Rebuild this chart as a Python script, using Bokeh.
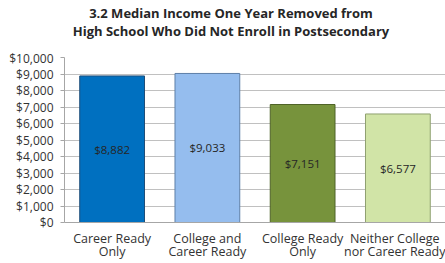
from bokeh.plotting import figure
from bokeh.models import ColumnDataSource, FixedTicker, NumeralTickFormatter, LabelSet, Div
from bokeh.layouts import column
from bokeh.embed import file_html
from bokeh.resources import INLINE
from bokeh.core.properties import value

categories = ["Career Ready\nOnly", "College and\nCareer Ready", "College Ready\nOnly", "Neither College\nnor Career Ready"]
incomes = [8882, 9033, 7151, 6577]
value_labels = ["$8,882", "$9,033", "$7,151", "$6,577"]
fill_colors = ["#0070C0", "#95BDEE", "#77933C", "#D1E4A7"]
line_colors = ["#1F4E79", "#5E7FA8", "#4F6328", "#8FA070"]
y_ticks = list(range(0, 10001, 1000))
title_lines = ["3.2 Median Income One Year Removed from",
               "High School Who Did Not Enroll in Postsecondary"]

src = ColumnDataSource(dict(cat=categories, val=incomes, half=[v / 2 for v in incomes],
                            lab=value_labels, fc=fill_colors, lc=line_colors))

p = figure(x_range=categories, y_range=(0, 10000), width=445, height=214,
           output_backend="svg", toolbar_location=None,
           min_border_left=64, min_border_right=0, min_border_top=8, min_border_bottom=40)
p.outline_line_color = None
p.background_fill_color = "white"
p.border_fill_color = "white"

p.vbar(x="cat", top="val", width=0.68, source=src, fill_color="fc", line_color="lc", line_width=1)

labels = LabelSet(x="cat", y="half", text="lab", source=src, text_align="center",
                  text_baseline="middle", text_font=value("Open Sans"), text_font_size="11.5px",
                  text_color="#262626")
p.add_layout(labels)

p.yaxis.ticker = FixedTicker(ticks=y_ticks)
p.yaxis.formatter = NumeralTickFormatter(format="$0,0")
p.yaxis.major_label_text_font = "Open Sans"
p.yaxis.major_label_text_font_size = "12px"
p.yaxis.major_label_text_color = "#333333"
p.yaxis.axis_line_color = "#A6A6A6"
p.yaxis.major_tick_line_color = "#A6A6A6"
p.yaxis.major_tick_out = 4
p.yaxis.major_tick_in = 0
p.yaxis.minor_tick_line_color = None
p.yaxis.major_label_standoff = 7

p.xaxis.major_label_text_font = "Open Sans"
p.xaxis.major_label_text_font_size = "12.5px"
p.xaxis.major_label_text_color = "#333333"
p.xaxis.major_label_text_line_height = 0.82
p.xaxis.axis_line_color = "#A6A6A6"
p.xaxis.major_tick_line_color = None
p.xaxis.major_tick_out = 0
p.xaxis.major_tick_in = 0
p.xaxis.major_label_standoff = 7

p.xgrid.grid_line_color = None
p.ygrid.grid_line_color = "#C0C0C0"
p.ygrid.ticker = FixedTicker(ticks=y_ticks)

title_html = ('<div style="width:445px;box-sizing:border-box;padding-left:17px;padding-top:4px;'
              'text-align:center;white-space:nowrap;font-family:\'Open Sans\';font-weight:bold;'
              'font-size:13px;line-height:18px;color:#262626;">'
              + "<br>".join(title_lines) + '</div>')
title = Div(text=title_html, width=445, height=49, margin=(0, 0, 0, 0))

layout = column(title, p, spacing=0)

open("out.html", "w").write(file_html(layout, INLINE))
